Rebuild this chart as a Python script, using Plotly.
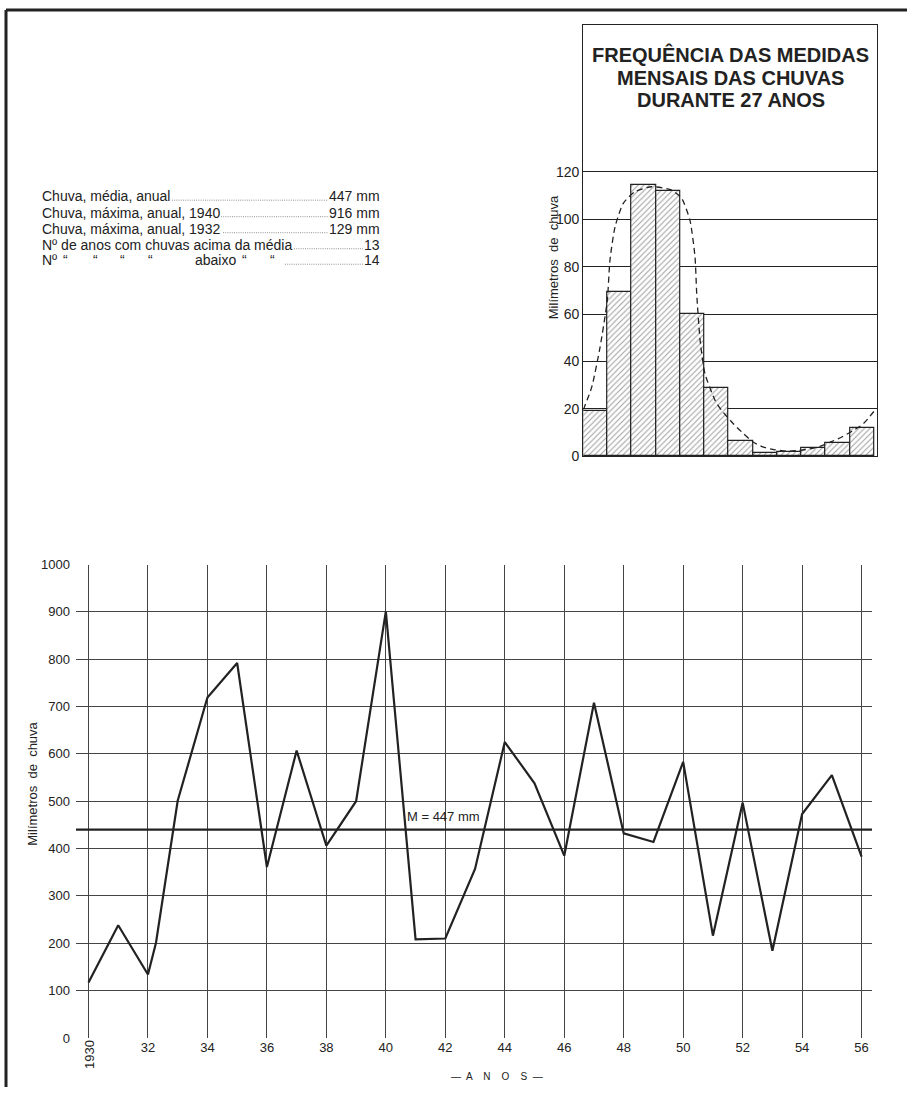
import plotly.graph_objects as go

W, H = 907, 1095
# the returned photo shows page rows as 0.9854*y + 7; invert that when placing
SQ, DY = 0.9854, 7.0
FONT = "Liberation Sans, Arial, sans-serif"
INK = "#222222"

# ---------------- data: annual rainfall (line chart) ----------------
years = [1930, 1931, 1932, 1932.27, 1933, 1934, 1935, 1936, 1937, 1938, 1939,
         1940, 1941, 1942, 1943, 1944, 1945, 1946, 1947, 1948, 1949, 1950,
         1951, 1952, 1953, 1954, 1955, 1956]
rain_mm = [117, 238, 134, 201, 501, 719, 792, 361, 607, 406, 500,
           901, 208, 210, 357, 625, 538, 385, 708, 432, 414, 583,
           216, 497, 184, 473, 555, 383]
mean_line_mm = 440
mean_label = "M = 447 mm"
year_ticks = list(range(1930, 1957, 2))
year_tick_text = ["", "32", "34", "36", "38", "40", "42", "44", "46", "48",
                  "50", "52", "54", "56"]
rain_ticks = list(range(0, 1001, 100))

# ---------------- data: monthly frequency (histogram) ----------------
months = list(range(1, 13))
monthly_mm = [19.1, 69.5, 114.5, 111.9, 60.2, 29.0, 6.3, 1.5, 2.0, 3.4, 5.8, 12.1]
curve_month = [0.5, 0.85, 1.19, 1.49, 1.6, 1.81, 2.15, 2.63, 3.32, 4.15, 4.56,
               4.9, 5.11, 5.18, 5.32, 5.52, 5.94, 6.2, 6.69, 7.11, 7.52, 7.93,
               8.41, 8.9, 9.38, 9.86, 10.27, 10.69, 11.17, 11.65, 12.06, 12.58]
curve_mm = [19.7, 29.3, 46.0, 65.8, 82.7, 96.8, 106.7, 111.6, 113.7, 112.3, 108.8,
            99.6, 84.1, 68.7, 49.0, 34.9, 23.6, 19.5, 13.8, 9.6, 6.0, 3.9,
            2.8, 2.2, 2.5, 3.2, 4.2, 6.0, 8.2, 11.0, 13.8, 20.1]
hist_ticks = [0, 20, 40, 60, 80, 100, 120]
hist_title = ["FREQUÊNCIA DAS MEDIDAS", "MENSAIS DAS CHUVAS", "DURANTE 27 ANOS"]

# ---------------- data: summary text ----------------
summary_labels = ["Chuva, média, anual", "Chuva, máxima, anual, 1940",
                  "Chuva, máxima, anual, 1932",
                  "Nº de anos com chuvas acima da média"]
summary_values = ["447 mm", "916 mm", "129 mm", "13", "14"]


def px(x):
    """target pixel x -> paper coordinate"""
    return x / W


def py(y):
    """target pixel y -> paper coordinate"""
    return 1 - ((y - DY) / SQ) / H


def label(x, y, text, size=13, xanchor="center", angle=0, bold=False):
    return dict(x=px(x), y=py(y), xref="paper", yref="paper",
                text=("<b>" + text + "</b>") if bold else text,
                showarrow=False, xanchor=xanchor, yanchor="middle",
                textangle=angle, font=dict(size=size, color=INK, family=FONT))


fig = go.Figure()

fig.add_trace(go.Scatter(
    x=years, y=rain_mm, mode="lines",
    line=dict(color=INK, width=2.2), xaxis="x", yaxis="y", hoverinfo="skip"))
fig.add_trace(go.Scatter(
    x=[1929.58, 1956.35], y=[mean_line_mm, mean_line_mm], mode="lines",
    line=dict(color=INK, width=2.4), xaxis="x", yaxis="y", hoverinfo="skip"))

fig.add_trace(go.Bar(
    x=months, y=monthly_mm, width=1, xaxis="x2", yaxis="y2",
    marker=dict(color="white", line=dict(color=INK, width=1.2),
                pattern=dict(shape="/", fgcolor="#3a3a3a", bgcolor="white",
                             size=4, solidity=0.25)),
    hoverinfo="skip"))
fig.add_trace(go.Scatter(
    x=curve_month, y=curve_mm, mode="lines", xaxis="x2", yaxis="y2",
    line=dict(color=INK, width=1.3, dash="6px,4px", shape="spline", smoothing=0.6),
    hoverinfo="skip"))

annotations = []
shapes = []

# histogram title
for txt, yy in zip(hist_title, [54, 78, 100]):
    annotations.append(label(730.5, yy, txt, size=20, bold=True))

# axis titles and free labels
annotations.append(label(553, 257, "Milímetros  de  chuva", angle=-90))
annotations.append(label(33, 783, "Milímetros  de  chuva", angle=-90))
annotations.append(label(497, 1076, "—  A    N    O    S  —", size=10))
annotations.append(label(90, 1054, "1930", angle=-90))
annotations.append(label(405, 816, mean_label, xanchor="left"))

# summary block
row_y = [196, 212.5, 228.5, 244.5, 260]
for i, lab in enumerate(summary_labels):
    annotations.append(label(40, row_y[i], lab, size=14, xanchor="left"))
for i, val in enumerate(summary_values):
    annotations.append(label(382, row_y[i], val, size=14, xanchor="right"))
# last row: ditto marks
row5 = [("Nº", 40), ("“", 61), ("“", 91), ("“", 118), ("“", 146),
        ("abaixo", 193), ("“", 240), ("“", 268)]
for txt, xx in row5:
    annotations.append(label(xx, row_y[4], txt, size=14, xanchor="left"))
dot_start = [172, 221, 223, 294, 285]
dot_end = [328, 328, 328, 363, 363]
for i in range(5):
    shapes.append(dict(type="line", xref="paper", yref="paper",
                       x0=px(dot_start[i]), x1=px(dot_end[i]),
                       y0=py(row_y[i] + 4), y1=py(row_y[i] + 4),
                       line=dict(color="#777777", width=0.8, dash="1px,1.2px")))

# outer frame (top and left)
shapes.append(dict(type="line", xref="paper", yref="paper", x0=px(6), x1=1,
                   y0=py(10), y1=py(10), line=dict(color=INK, width=3)))
shapes.append(dict(type="line", xref="paper", yref="paper", x0=px(6), x1=px(6),
                   y0=py(10), y1=0, line=dict(color=INK, width=3)))

fig.update_layout(
    width=W, height=H,
    margin=dict(l=0, r=0, t=0, b=0),
    paper_bgcolor="white", plot_bgcolor="white",
    showlegend=False,
    font=dict(family=FONT, color=INK, size=13),
    xaxis=dict(domain=[px(76), px(872)], range=[1929.58, 1956.35],
               tickmode="array", tickvals=year_ticks, ticktext=year_tick_text,
               showgrid=True, gridcolor="#444444", gridwidth=1,
               zeroline=False, showline=False, ticks="",
               tickfont=dict(size=13, color=INK), anchor="y"),
    yaxis=dict(domain=[py(1037), py(564)], range=[0, 1000],
               tickmode="array", tickvals=rain_ticks,
               showgrid=True, gridcolor="#444444", gridwidth=1,
               zeroline=False, showline=False, ticks="", ticklabelstandoff=5,
               tickfont=dict(size=13, color=INK), anchor="x"),
    xaxis2=dict(domain=[px(583.3), px(876.5)], range=[0.5, 12.6],
                showticklabels=False, showgrid=False, zeroline=False,
                showline=True, mirror=True, linecolor=INK, linewidth=1.3,
                ticks="", anchor="y2"),
    yaxis2=dict(domain=[py(456), py(25)], range=[0, 181.9],
                tickmode="array", tickvals=hist_ticks,
                showgrid=True, gridcolor="#222222", gridwidth=1,
                zeroline=False, showline=True, mirror=True, linecolor=INK,
                linewidth=1.3, ticks="",
                tickfont=dict(size=14, color=INK), anchor="x2"),
    annotations=annotations,
    shapes=shapes,
    bargap=0,
)

# the page's default 8px body margin would shift the figure; remove it
fig.write_html("out.html",
               config={"displayModeBar": False},
               post_script="document.body.style.margin='0px';")
